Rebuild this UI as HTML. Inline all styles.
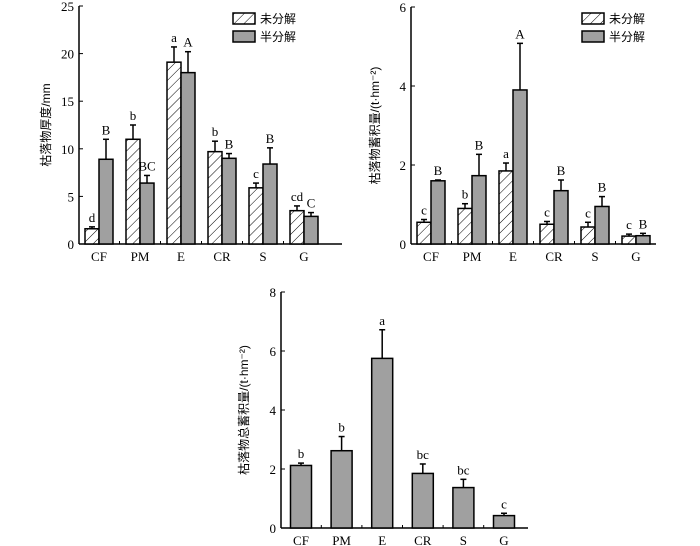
<!DOCTYPE html>
<html><head><meta charset="utf-8"><style>
body{margin:0;background:#fff;width:700px;height:546px;overflow:hidden}
svg{display:block}
text{font-family:"Liberation Serif","Noto Serif CJK SC",serif;fill:#000}
.cjk{font-family:"Liberation Sans","Noto Sans CJK SC",sans-serif}
</style></head><body>
<svg id="svg" width="700" height="546">
<defs><pattern id="hatch" width="7" height="7" patternUnits="userSpaceOnUse" patternTransform="rotate(45)"><rect width="7" height="7" fill="#fff"/><line x1="0" y1="0" x2="0" y2="7" stroke="#000" stroke-width="1"/></pattern></defs>
</svg>
<script>
const cats=["CF","PM","E","CR","S","G"];
const t1Und=[1.6,11,19.1,9.7,5.9,3.5];
const t1UndErr=[0.2,1.5,1.6,1.1,0.5,0.5];
const t1UndLbl=["d","b","a","b","c","cd"];
const t1Semi=[8.9,6.4,18,9,8.4,2.9];
const t1SemiErr=[2.1,0.8,2.2,0.5,1.7,0.4];
const t1SemiLbl=["B","BC","A","B","B","C"];
const t1Ticks=[0,5,10,15,20,25];
const t2Und=[0.55,0.9,1.85,0.5,0.43,0.2];
const t2UndErr=[0.07,0.12,0.2,0.07,0.12,0.05];
const t2UndLbl=["c","b","a","c","c","c"];
const t2Semi=[1.6,1.73,3.9,1.35,0.95,0.21];
const t2SemiErr=[0.02,0.54,1.18,0.27,0.25,0.06];
const t2SemiLbl=["B","B","A","B","B","B"];
const t2Ticks=[0,2,4,6];
const t3Tot=[2.12,2.62,5.75,1.85,1.37,0.42];
const t3Err=[0.08,0.48,0.97,0.32,0.28,0.08];
const t3Lbl=["b","b","a","bc","bc","c"];
const t3Ticks=[0,2,4,6,8];
const NS="http://www.w3.org/2000/svg";
const svg=document.getElementById('svg');
function mk(tag,a,txt){const e=document.createElementNS(NS,tag);for(const k in a)e.setAttribute(k,a[k]);if(txt!==undefined)e.textContent=txt;svg.appendChild(e);return e;}
function chart(o){
 const y=v=>o.y0-(v/o.max)*(o.y0-o.ytop);
 const x=i=>o.cx0+i*o.step;
 let e=mk('line',{x1:o.ax,y1:o.ytop,x2:o.ax,y2:o.y0,stroke:'#000','stroke-width':1.5});
 
 
 e=mk('line',{x1:o.ax,y1:o.y0,x2:o.axEnd,y2:o.y0,stroke:'#000','stroke-width':1.5});
 
 
 o.ticks.forEach(t=>{
  e=mk('line',{x1:o.ax,y1:y(t),x2:o.ax+4,y2:y(t),stroke:'#000','stroke-width':1});
  
  
  e=mk('text',{x:o.ax-5,y:y(t)+5,'text-anchor':'end','font-size':13},t);
  
  
 });
 cats.forEach((c,i)=>{
  e=mk('text',{x:x(i),y:o.y0+17,'text-anchor':'middle','font-size':13},c);
  
  
  if(i>0){e=mk('line',{x1:x(i)-o.step/2,y1:o.y0,x2:x(i)-o.step/2,y2:o.y0-3,stroke:'#000'});
  
  }
 });
 o.series.forEach((s,si)=>{
  s.vals.forEach((v,i)=>{
   const bx=x(i)+s.off-o.bw/2;
   const top=y(v+s.err[i]);
   e=mk('line',{x1:bx+o.bw/2,y1:y(v),x2:bx+o.bw/2,y2:top,stroke:'#000','stroke-width':1.5});
   
   
   e=mk('line',{x1:bx+o.bw/2-3,y1:top,x2:bx+o.bw/2+3,y2:top,stroke:'#000','stroke-width':1.5});
   
   
   e=mk('rect',{x:bx,y:y(v),width:o.bw,height:o.y0-y(v),fill:s.fill,stroke:'#000','stroke-width':1.5});
   
   
   e=mk('text',{x:bx+o.bw/2,y:top-5,'text-anchor':'middle','font-size':13},s.lbl[i]);
   
   
  });
 });
 const ty=(o.ytop+o.y0)/2;
 e=mk('text',{x:o.titleX,y:ty,'text-anchor':'middle','font-size':12,class:'cjk',transform:`rotate(-90 ${o.titleX} ${ty})`},o.title);
 
 
 if(o.legend){
  const L=o.legend;
  e=mk('rect',{x:L.x,y:L.y,width:22,height:11,fill:'url(#hatch)',stroke:'#000','stroke-width':1.5});
  
  
  e=mk('text',{x:L.x+27,y:L.y+10,'font-size':12,class:'cjk'},'未分解');
  
  
  e=mk('rect',{x:L.x,y:L.y+18,width:22,height:11,fill:'#a0a0a0',stroke:'#000','stroke-width':1.5});
  
  
  e=mk('text',{x:L.x+27,y:L.y+28,'font-size':12,class:'cjk'},'半分解');
  
  
 }
}
chart({id:'thickness',ax:79,axEnd:342,y0:244,ytop:6,max:25,ticks:t1Ticks,cx0:99,step:41,bw:14,titleX:50,
 title:'枯落物厚度/mm',legend:{x:233,y:13},
 series:[{name:'undecomposed',vals:t1Und,err:t1UndErr,lbl:t1UndLbl,fill:'url(#hatch)',off:-7},
 {name:'semidecomposed',vals:t1Semi,err:t1SemiErr,lbl:t1SemiLbl,fill:'#a0a0a0',off:7}]});
chart({id:'stock',ax:411,axEnd:656,y0:244,ytop:7,max:6,ticks:t2Ticks,cx0:431,step:41,bw:14,titleX:379,
 title:'枯落物蓄积量/(t·hm⁻²)',legend:{x:582,y:13},
 series:[{name:'undecomposed',vals:t2Und,err:t2UndErr,lbl:t2UndLbl,fill:'url(#hatch)',off:-7},
 {name:'semidecomposed',vals:t2Semi,err:t2SemiErr,lbl:t2SemiLbl,fill:'#a0a0a0',off:7}]});
chart({id:'total',ax:281,axEnd:528,y0:528,ytop:292,max:8,ticks:t3Ticks,cx0:301,step:40.6,bw:21,titleX:248,
 title:'枯落物总蓄积量/(t·hm⁻²)',
 series:[{name:'total',vals:t3Tot,err:t3Err,lbl:t3Lbl,fill:'#a0a0a0',off:0}]});
</script>
</body></html>
